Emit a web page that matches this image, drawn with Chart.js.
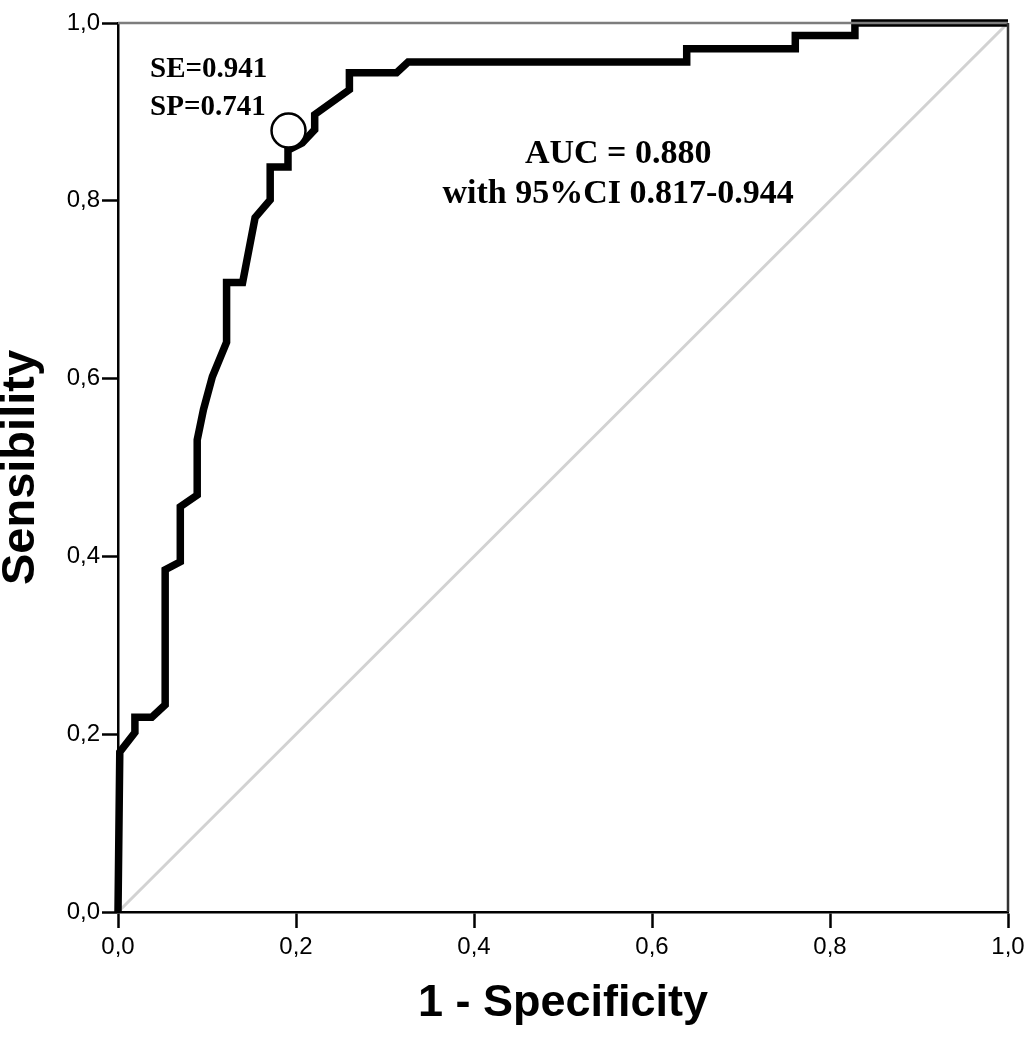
<!DOCTYPE html>
<html><head><meta charset="utf-8">
<script src="https://cdn.jsdelivr.net/npm/chart.js@4.4.1/dist/chart.umd.min.js"></script>
<style>html,body{margin:0;padding:0;background:#fff;} canvas{display:block}</style>
</head><body>
<canvas id="c" width="1031" height="1050"></canvas>
<script>
// ROC curve points (1 - specificity, sensitivity)
const rocFpr = [0,0.002,0.019,0.019,0.038,0.053,0.053,0.070,0.070,0.089,0.089,0.096,0.106,0.122,0.122,0.140,0.154,0.171,0.171,0.191,0.191,0.207,0.221,0.221,0.260,0.260,0.313,0.326,0.639,0.639,0.761,0.761,0.828,0.828,1.0];
const rocTpr = [0,0.180,0.202,0.219,0.219,0.233,0.385,0.394,0.456,0.469,0.531,0.565,0.602,0.641,0.708,0.708,0.781,0.801,0.838,0.838,0.857,0.865,0.880,0.897,0.925,0.944,0.944,0.956,0.956,0.971,0.971,0.986,0.986,1.0,1.0];
// reference diagonal
const diagX = [0, 1];
const diagY = [0, 1];
// optimal cut-off marker
const cutX = [0.1916];
const cutY = [0.879];
// tick labels
const tickLabels = ['0,0','0,2','0,4','0,6','0,8','1,0'];
// annotation texts
const seText = 'SE=0.941';
const spText = 'SP=0.741';
const aucText = 'AUC = 0.880';
const ciText = 'with 95%CI 0.817-0.944';

const toPts = (xs, ys) => xs.map((x, i) => ({x: x, y: ys[i]}));

const frame = {
  id: 'frame',
  beforeDraw(chart) {
    const c = chart.ctx;
    c.save(); c.fillStyle = '#fff'; c.fillRect(0, 0, chart.width, chart.height); c.restore();
  },
  afterDraw(chart) {
    const {ctx, chartArea: a} = chart;
    ctx.save();
    ctx.lineWidth = 2.5;
    ctx.strokeStyle = '#7d7d7d';
    ctx.beginPath(); ctx.moveTo(a.left, a.top); ctx.lineTo(a.right, a.top); ctx.stroke();
    ctx.strokeStyle = '#333';
    ctx.beginPath(); ctx.moveTo(a.right, a.top); ctx.lineTo(a.right, a.bottom); ctx.stroke();
    ctx.restore();
  }
};

const notes = {
  id: 'notes',
  afterDatasetsDraw(chart) {
    const {ctx, scales: {x, y}} = chart;
    ctx.save();
    ctx.fillStyle = '#000';
    ctx.textBaseline = 'alphabetic';
    ctx.font = 'bold 29px "Liberation Serif", "Times New Roman", serif';
    ctx.textAlign = 'left';
    ctx.fillText(seText, x.getPixelForValue(0.036), y.getPixelForValue(0.939));
    ctx.fillText(spText, x.getPixelForValue(0.036), y.getPixelForValue(0.897));
    ctx.font = 'bold 34px "Liberation Serif", "Times New Roman", serif';
    ctx.textAlign = 'center';
    ctx.fillText(aucText, x.getPixelForValue(0.562), y.getPixelForValue(0.843));
    ctx.fillText(ciText, x.getPixelForValue(0.562), y.getPixelForValue(0.798));
    ctx.restore();
  }
};

new Chart(document.getElementById('c'), {
  type: 'scatter',
  data: {
    datasets: [
      {
        label: 'cut-off', data: toPts(cutX, cutY), order: 0,
        pointRadius: 17, pointBackgroundColor: '#fff', pointBorderColor: '#000', pointBorderWidth: 2.5,
        showLine: false
      },
      {
        label: 'ROC', data: toPts(rocFpr, rocTpr), order: 1, showLine: true,
        borderColor: '#000', borderWidth: 7.5, pointRadius: 0, borderJoinStyle: 'miter',
        tension: 0, clip: 8
      },
      {
        label: 'diag', data: toPts(diagX, diagY), order: 2, showLine: true,
        borderColor: '#d2d2d2', borderWidth: 3, pointRadius: 0
      }
    ]
  },
  options: {
    responsive: false,
    animation: false,
    devicePixelRatio: 1,
    layout: {padding: {left: 0, top: 23, right: 23, bottom: 0}},
    plugins: {legend: {display: false}, tooltip: {enabled: false}},
    scales: {
      x: {
        type: 'linear', min: 0, max: 1,
        afterFit: s => { s.height = 138; },
        border: {display: true, color: '#000', width: 2.5},
        grid: {drawOnChartArea: false, drawTicks: true, tickLength: 16, color: '#000', tickWidth: 2.5},
        ticks: {
          stepSize: 0.2, color: '#000', padding: 5,
          font: {family: '"Liberation Sans", Arial, sans-serif', size: 24},
          callback: v => tickLabels[Math.round(v * 5)]
        },
        title: {
          display: true, text: '1 - Specificity', color: '#000',
          font: {family: '"Liberation Sans", Arial, sans-serif', size: 45, weight: 'bold'},
          padding: {top: 0, bottom: 19}
        }
      },
      y: {
        type: 'linear', min: 0, max: 1,
        afterFit: s => { s.width = 118; },
        border: {display: true, color: '#000', width: 2.5},
        grid: {drawOnChartArea: false, drawTicks: true, tickLength: 16, color: '#000', tickWidth: 2.5},
        ticks: {
          stepSize: 0.2, color: '#000', padding: 2,
          font: {family: '"Liberation Sans", Arial, sans-serif', size: 24},
          callback: v => tickLabels[Math.round(v * 5)]
        },
        title: {
          display: true, text: 'Sensibility', color: '#000',
          font: {family: '"Liberation Sans", Arial, sans-serif', size: 47, weight: 'bold', lineHeight: 0.9},
          padding: {top: 0, bottom: 0}
        }
      }
    }
  },
  plugins: [frame, notes]
});
</script>
</body></html>
